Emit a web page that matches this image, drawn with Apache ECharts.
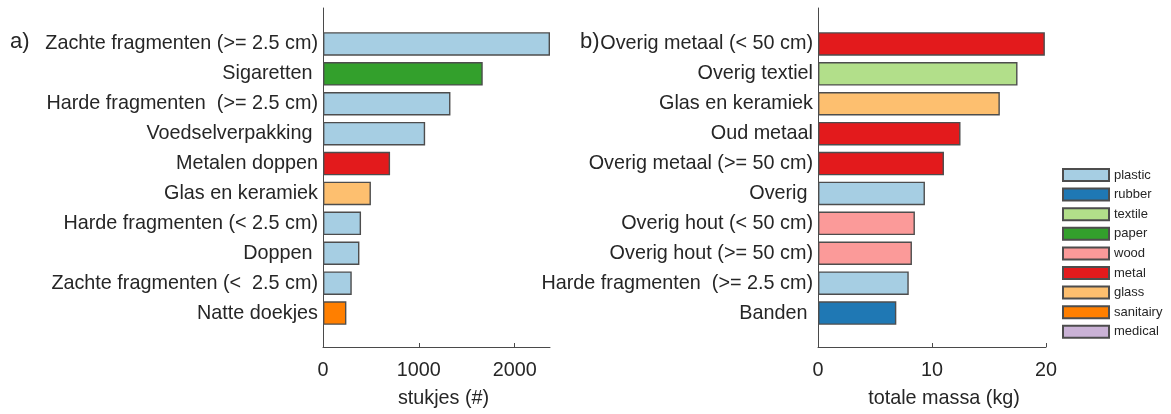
<!DOCTYPE html>
<html>
<head>
<meta charset="utf-8">
<script src="https://cdn.jsdelivr.net/npm/echarts@6/dist/echarts.min.js"></script>
<style>
  html, body { margin: 0; padding: 0; background: #ffffff; }
  #chart { width: 1171px; height: 414px; }
</style>
</head>
<body>
<div id="chart"></div>
<script>
// a) number of items per category
const leftCategories = ['Zachte fragmenten (>= 2.5 cm)', 'Sigaretten ', 'Harde fragmenten  (>= 2.5 cm)', 'Voedselverpakking ', 'Metalen doppen', 'Glas en keramiek', 'Harde fragmenten (< 2.5 cm)', 'Doppen ', 'Zachte fragmenten (<  2.5 cm)', 'Natte doekjes'];
const leftValues = [2369, 1667, 1330, 1066, 700, 500, 397, 380, 300, 244];
const leftMaterials = ['plastic', 'paper', 'plastic', 'plastic', 'metal', 'glass', 'plastic', 'plastic', 'plastic', 'sanitairy'];
const leftTicks = [0, 1000, 2000];

// b) total mass per category
const rightCategories = ['Overig metaal (< 50 cm)', 'Overig textiel', 'Glas en keramiek', 'Oud metaal', 'Overig metaal (>= 50 cm)', 'Overig ', 'Overig hout (< 50 cm)', 'Overig hout (>= 50 cm)', 'Harde fragmenten  (>= 2.5 cm)', 'Banden '];
const rightValues = [19.9, 17.5, 15.95, 12.5, 11.05, 9.38, 8.5, 8.24, 7.96, 6.87];
const rightMaterials = ['metal', 'textile', 'glass', 'metal', 'metal', 'plastic', 'wood', 'wood', 'plastic', 'rubber'];
const rightTicks = [0, 10, 20];

// material classes and their colours
const materials = ['plastic', 'rubber', 'textile', 'paper', 'wood', 'metal', 'glass', 'sanitairy', 'medical'];
const materialColors = ['#a6cee3', '#1f78b4', '#b2df8a', '#33a02c', '#fb9a99', '#e31a1c', '#fdbf6f', '#ff7f00', '#cab2d6'];

const TEXT = '#262626';
const AXIS = '#4a4a4a';
const FONT = 'Liberation Sans, Arial, sans-serif';
const LABEL_SIZE = 19.8;

const leftMax = Math.max(...leftValues);
const rightMax = 20;

// layout of the two panels (pixels)
const panels = [
  { left: 323, width: 227, max: leftMax, ticks: leftTicks, interval: 1000, name: 'stukjes (#)', namePad: 14 },
  { left: 818, width: 228, max: rightMax, ticks: rightTicks, interval: 10, name: 'totale massa (kg)', namePad: 24 }
];
const axisTop = 8, axisHeight = 341;     // frame of the axes
const barTop = 29, barHeight = 299;      // band area of the categories

const grids = [], xAxes = [], yAxes = [];
panels.forEach((p, i) => {
  // bar grid (index 2*i) and axis frame grid (index 2*i+1)
  grids.push({ left: p.left, width: p.width, top: barTop, height: barHeight, containLabel: false });
  grids.push({ left: p.left, width: p.width, top: axisTop, height: axisHeight, containLabel: false });

  xAxes.push({
    type: 'value', gridIndex: 2 * i, min: 0, max: p.max,
    show: false
  });
  xAxes.push({
    type: 'value', gridIndex: 2 * i + 1, min: 0, max: p.max, interval: p.interval,
    axisLine: { show: true, lineStyle: { color: AXIS, width: 1 } },
    axisTick: { show: true, inside: true, length: 4, customValues: p.ticks, lineStyle: { color: AXIS } },
    axisLabel: {
      show: true, customValues: p.ticks, margin: 14, color: TEXT, fontFamily: FONT, fontSize: LABEL_SIZE,
      formatter: (v) => String(v)
    },
    splitLine: { show: false },
    name: p.name, nameLocation: 'middle', nameGap: 42,
    nameTextStyle: { color: TEXT, fontFamily: FONT, fontSize: LABEL_SIZE, padding: [0, 0, 0, p.namePad] }
  });

  yAxes.push({
    type: 'category', gridIndex: 2 * i, inverse: true,
    data: i === 0 ? leftCategories : rightCategories,
    axisLine: { show: false }, axisTick: { show: false },
    axisLabel: { margin: 5, color: TEXT, fontFamily: FONT, fontSize: LABEL_SIZE },
    splitLine: { show: false }
  });
  yAxes.push({
    type: 'value', gridIndex: 2 * i + 1, min: 0, max: 1,
    axisLine: { show: true, lineStyle: { color: AXIS, width: 1 } },
    axisTick: { show: false }, axisLabel: { show: false }, splitLine: { show: false }
  });
});

// one stacked series per material in each panel, so that each bar takes its material colour
const series = [];
[[leftValues, leftMaterials, 0], [rightValues, rightMaterials, 1]].forEach(([vals, mats, i]) => {
  materials.forEach((m, k) => {
    series.push({
      type: 'bar', name: m, stack: 'panel' + i,
      xAxisIndex: 2 * i, yAxisIndex: 2 * i,
      barWidth: 23.5,
      itemStyle: { color: materialColors[k], borderColor: '#4d4d4d', borderWidth: 1.4 },
      data: vals.map((v, j) => (mats[j] === m ? v : null))
    });
  });
});

const chart = echarts.init(document.getElementById('chart'), null, { renderer: 'canvas' });
chart.setOption({
  animation: false,
  backgroundColor: '#ffffff',
  grid: grids,
  xAxis: xAxes,
  yAxis: yAxes,
  legend: {
    data: materials,
    orient: 'vertical',
    left: 1057, top: 163,
    itemWidth: 46, itemHeight: 12,
    itemGap: 5.6,
    icon: 'rect',
    textStyle: { color: TEXT, fontFamily: FONT, fontSize: 13, lineHeight: 14 },
    selectedMode: false
  },
  graphic: [
    { type: 'text', left: 10, top: 31, style: { text: 'a)', fill: TEXT, font: '22px ' + FONT } },
    { type: 'text', left: 580, top: 31, style: { text: 'b)', fill: TEXT, font: '22px ' + FONT } }
  ],
  series: series
});
</script>
</body>
</html>
